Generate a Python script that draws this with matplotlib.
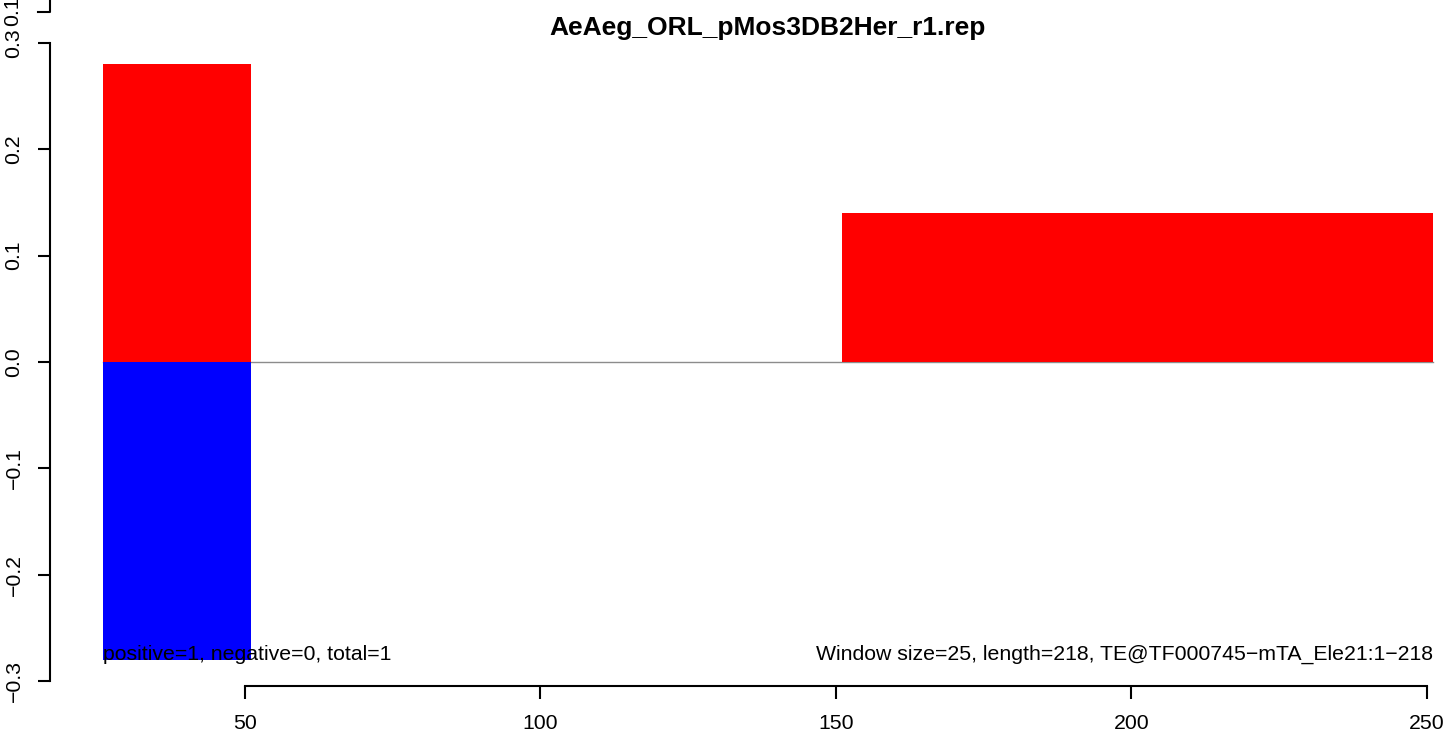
import matplotlib
matplotlib.use("Agg")
import matplotlib.pyplot as plt
from matplotlib.lines import Line2D

# windows along the TE consensus (start positions, window size 25)
win_start = [26, 51, 76, 101, 126, 151, 176, 201, 226]
win_size = 25
pos_vals = [0.28, 0, 0, 0, 0, 0.14, 0.14, 0.14, 0.14]
neg_vals = [-0.28, 0, 0, 0, 0, 0, 0, 0, 0]

title = "AeAeg_ORL_pMos3DB2Her_r1.rep"
left_note = "positive=1, negative=0, total=1"
right_note = "Window size=25, length=218, TE@TF000745\u2212mTA_Ele21:1\u2212218"
xticks = [50, 100, 150, 200, 250]
yticks = [-0.3, -0.2, -0.1, 0.0, 0.1, 0.2, 0.3]

FS = 15.3
plt.rcParams.update({"font.family": ["Liberation Sans", "DejaVu Sans"], "font.size": FS})

W, H = 1444, 736
fig = plt.figure(figsize=(W / 100, H / 100), dpi=100)
ax = fig.add_axes([50 / W, 52.5 / H, 1436 / W, 643 / H])

x_end = win_start[-1] + win_size
ax.plot([win_start[0], x_end], [0, 0], color="#8c8c8c", lw=1, zorder=1)
ax.bar(win_start, pos_vals, width=win_size, align="edge", color="red",
       lw=0, antialiased=False, zorder=2)
ax.bar(win_start, neg_vals, width=win_size, align="edge", color="blue",
       lw=0, antialiased=False, zorder=2)

ax.text(win_start[0], neg_vals[0], left_note, ha="left", va="baseline", zorder=3)
ax.text(x_end, neg_vals[0], right_note, ha="right", va="baseline", zorder=3)

ax.set_xlim(17, 260)
ax.set_ylim(-0.3024, 0.3024)
ax.set_xticks(xticks)
ax.set_yticks(yticks)
ax.set_yticklabels([f"{v:.1f}".replace("-", "\u2212") for v in yticks])
for s in ["top", "right"]:
    ax.spines[s].set_visible(False)
ax.spines["left"].set_bounds(-0.3, 0.3)
ax.spines["bottom"].set_bounds(50, 250)
ax.spines["bottom"].set_position(("outward", 1.5))
for s in ["left", "bottom"]:
    ax.spines[s].set_linewidth(1.5)
ax.tick_params(axis="both", length=9, width=1.5, labelsize=FS)
ax.tick_params(axis="x", pad=11.5)
ax.tick_params(axis="y", pad=10, labelrotation=90)
for lbl in ax.get_yticklabels():
    lbl.set_va("center")

ax.set_title(title, fontweight="bold", fontsize=19, pad=3)

# leftover axis stub from an overlaid plot at the very top
fig.add_artist(Line2D([50 / W, 50 / W, 38 / W], [1.0, (H - 11.7) / H, (H - 11.7) / H],
                      color="black", lw=1.5))
fig.text(13 / W, (H - 11.7) / H, "0.1", rotation=90, ha="center", va="center", fontsize=FS)

fig.savefig("out.png", dpi=100)
